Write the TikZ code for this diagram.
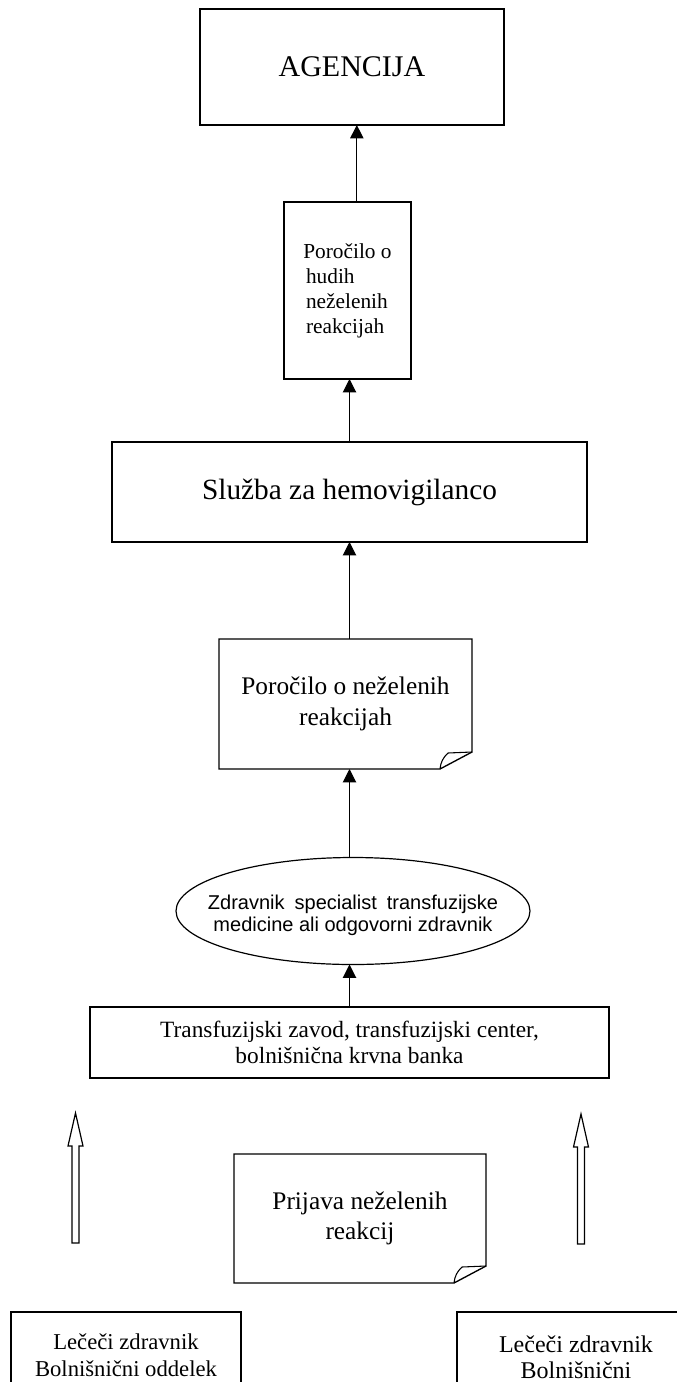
\documentclass[tikz,border=0pt]{standalone}
\usepackage{fontspec}
\setmainfont{Liberation Serif}
\newfontfamily\arialfont{Liberation Sans}
\usetikzlibrary{arrows.meta,shapes.geometric}

\tikzset{
  box/.style={draw,line width=1pt,inner sep=2pt,outer sep=0pt,align=center},
  page/.style={inner sep=2pt,outer sep=0pt,align=center},
  up/.style={-{Triangle[width=10pt,length=10pt]},line width=0.8pt},
  hollow/.style={draw,line width=0.9pt,fill=white},
}
% outline of a sheet with a turned-up corner
\newcommand{\dogear}[1]{%
  \draw[line width=1pt] (#1.north west) -- (#1.north east) -- ([yshift=12.75pt]#1.south east)
    -- ([xshift=-24pt]#1.south east) -- (#1.south west) -- cycle;
  \draw[line width=0.8pt] ([xshift=-24pt]#1.south east) to[bend left=20] ([xshift=-18pt,yshift=12pt]#1.south east)
    -- ([yshift=12.75pt]#1.south east);
}

\begin{document}
\begin{tikzpicture}[x=0.75pt,y=-0.75pt]
  \useasboundingbox (0,0) rectangle (677,1382);
  \clip (0,0) rectangle (677,1382);

  \node[box,minimum width=228pt,minimum height=87pt,font=\fontsize{22.5}{26}\selectfont] (agency) at (352,67) {AGENCIJA};
  \node[box,align=left,minimum width=95.25pt,minimum height=132.75pt,font=\fontsize{16}{18.75}\selectfont] (report) at (347.5,290.5)
    {Poročilo o\\\hspace*{2pt}hudih\\\hspace*{2pt}neželenih\\\hspace*{2pt}reakcijah};
  \node[box,minimum width=356.25pt,minimum height=75pt,font=\fontsize{22}{26}\selectfont] (sluzba) at (349.5,492) {Služba za hemovigilanco};
  \node[page,minimum width=189.75pt,minimum height=97.5pt,font=\fontsize{19}{23}\selectfont] (porocilo) at (345.5,704)
    {Poročilo o neželenih\\reakcijah};
  \dogear{porocilo}

  \node[ellipse,draw,line width=0.9pt,inner sep=0pt,outer sep=0pt,minimum width=265.5pt,minimum height=80.25pt] (ell) at (353,911) {};
  \node[page,font=\arialfont\fontsize{15}{16.5}\selectfont] (elltext) at ([yshift=-3pt]ell.center)
    {Zdravnik\hspace{0.5em}specialist\hspace{0.5em}transfuzijske\\medicine ali odgovorni zdravnik};

  \node[box,minimum width=389.25pt,minimum height=53.25pt,font=\fontsize{17.5}{20}\selectfont] (trans) at (349.5,1042.5)
    {Transfuzijski zavod, transfuzijski center,\\bolnišnična krvna banka};

  \node[page,minimum width=189pt,minimum height=96.75pt,font=\fontsize{19}{23}\selectfont] (prijava) at (360,1218.5)
    {Prijava neželenih\\reakcij};
  \dogear{prijava}

  \node[box,minimum width=172.5pt,minimum height=64.5pt,font=\fontsize{17}{20}\selectfont] (lbox) at (126,1355)
    {Lečeči zdravnik\\Bolnišnični oddelek};
  \node[box,minimum width=178.5pt,minimum height=68.25pt,font=\fontsize{18}{19.5}\selectfont] (rbox) at (576,1357.5)
    {Lečeči zdravnik\\Bolnišnični};

  % arrows upwards
  \draw[up] (trans.north) -- (trans.north |- ell.south);
  \draw[up] (trans.north |- ell.north) -- (trans.north |- porocilo.south);
  \draw[up] (sluzba.south |- porocilo.north) -- (sluzba.south);
  \draw[up] (sluzba.north) -- (sluzba.north |- report.south);
  \draw[up] ([xshift=7pt]report.north) -- ([xshift=7pt]report.north |- agency.south);

  % hollow arrows
  \coordinate (lshaft) at (75.5,1243);
  \coordinate (rshaft) at (581,1244);
  \foreach \c in {lshaft,rshaft}
    \draw[hollow] (\c) ++(-3.5,0) -- ++(0,-97) -- ++(-4,0) -- ++(7.5,-33) -- ++(7.5,33) -- ++(-4,0) -- ++(0,97) -- cycle;
\end{tikzpicture}
\end{document}
